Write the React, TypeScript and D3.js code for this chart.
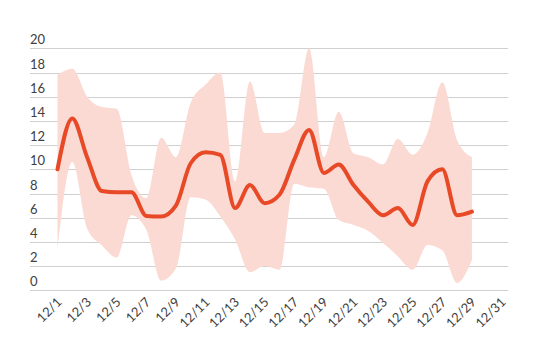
import * as d3 from "d3";

// days of December with observations
const days = d3.range(1, 30);
const tickDays = [1, 3, 5, 7, 9, 11, 13, 15, 17, 19, 21, 23, 25, 27, 29, 31];
const yTicks = [0, 2, 4, 6, 8, 10, 12, 14, 16, 18, 20];

const meanValues = [
  10, 14.2, 11.0, 8.2, 8.1, 8.1, 6.15, 6.1, 7.0, 10.5, 11.4, 11.2, 6.8, 8.7,
  7.2, 7.9, 10.8, 13.25, 9.7, 10.4, 8.7, 7.3, 6.2, 6.8, 5.4, 9.0, 10.0, 6.2, 6.5,
];
const maxValues = [
  17.8, 18.3, 16.0, 15.15, 15.0, 9.5, 7.6, 12.6, 11.0, 15.5, 17.0, 18.0, 9.0,
  17.25, 13.0, 13.0, 13.7, 20.0, 11.0, 14.75, 11.3, 11.0, 10.4, 12.5, 11.2, 13.0,
  17.2, 12.4, 11.0,
];
const minValues = [
  3.3, 10.6, 5.1, 3.7, 2.7, 6.2, 5.0, 0.8, 1.8, 7.7, 7.5, 6.1, 4.2, 1.5, 2.0,
  1.7, 8.8, 8.5, 8.4, 5.8, 5.4, 4.9, 3.9, 2.8, 1.7, 3.75, 3.3, 0.6, 2.5,
];

const W = 550;
const H = 362;
const gridLeft = 30;
const gridRight = 508;

export default function App() {
  const x = d3.scaleLinear().domain([1, 31]).range([57.5, 501.5]);
  const y = d3.scaleLinear().domain([0, 20]).range([290.3, 48.3]);

  const rows = days.map((d, i) => ({
    day: d,
    mean: meanValues[i],
    lo: minValues[i],
    hi: maxValues[i],
  }));

  const area = d3
    .area<(typeof rows)[number]>()
    .x((d) => x(d.day))
    .y0((d) => y(d.lo))
    .y1((d) => y(d.hi))
    .curve(d3.curveMonotoneX);

  const line = d3
    .line<(typeof rows)[number]>()
    .x((d) => x(d.day))
    .y((d) => y(d.mean))
    .curve(d3.curveMonotoneX);

  const font = "Lato, 'Open Sans', sans-serif";

  return (
    <svg
      width={W}
      height={H}
      style={{ position: "absolute", left: 0, top: 0 }}
      fontFamily={font}
    >
      {yTicks.map((t) => (
        <g key={t}>
          <line
            x1={gridLeft}
            x2={gridRight}
            y1={Math.round(y(t)) + 0.5}
            y2={Math.round(y(t)) + 0.5}
            stroke="#d0d0d0"
            strokeWidth={1}
          />
          <text x={gridLeft} y={y(t) - 4} fontSize={13} fill="#404040">
            {t}
          </text>
        </g>
      ))}
      <path d={area(rows) ?? ""} fill="#fadad3" />
      <path
        d={line(rows) ?? ""}
        fill="none"
        stroke="#e84a27"
        strokeWidth={4}
        strokeLinejoin="round"
        strokeLinecap="round"
      />
      {tickDays.map((d) => (
        <text
          key={d}
          transform={`translate(${x(d) + 5},${303}) rotate(-45)`}
          textAnchor="end"
          fontSize={13}
          fill="#404040"
        >
          {`12/${d}`}
        </text>
      ))}
    </svg>
  );
}
